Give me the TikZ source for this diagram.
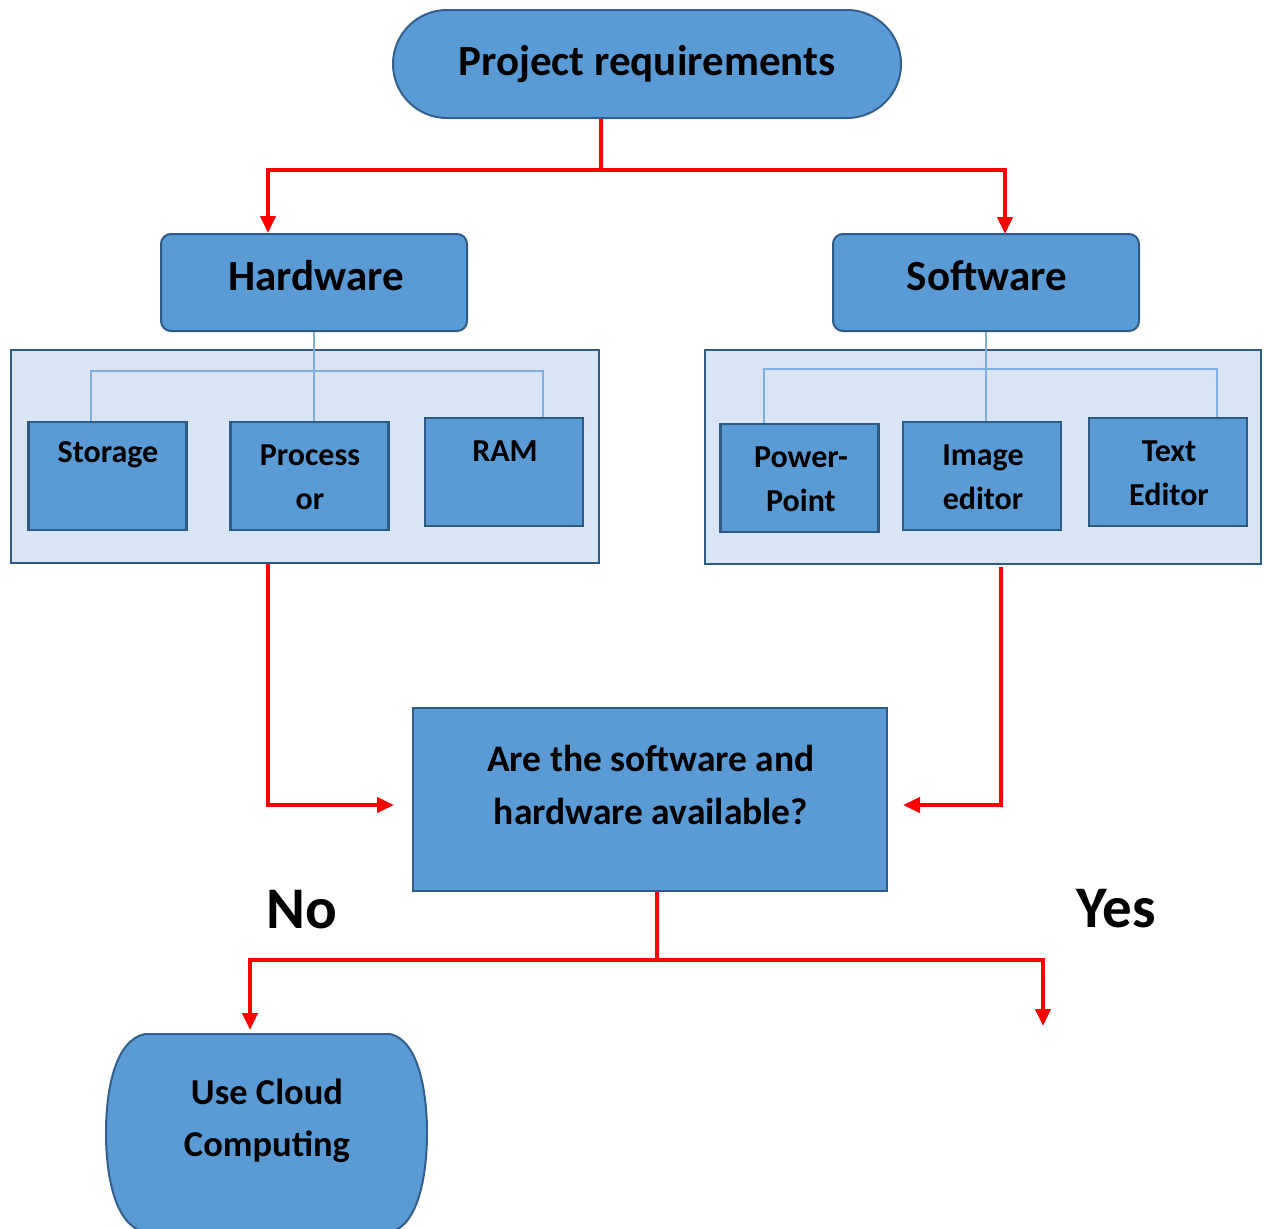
\documentclass[tikz,border=0pt]{standalone}
\usepackage{fontspec}
\setmainfont{Carlito}
\usetikzlibrary{arrows.meta}
\definecolor{boxfill}{HTML}{5B9BD5}
\definecolor{boxline}{HTML}{2E5A86}
\definecolor{termline}{HTML}{325F8E}
\definecolor{panefill}{HTML}{D7E5F4}
\definecolor{thinblue}{HTML}{7EAFDF}
\definecolor{cred}{HTML}{FF0000}
\tikzset{
  termbox/.style={draw=termline, fill=boxfill, line width=2pt},
  headbox/.style={draw=boxline, fill=boxfill, line width=2pt, rounded corners=10pt,
    minimum width=306pt, minimum height=97pt, inner sep=0pt},
  pane/.style={draw=boxline, fill=panefill, line width=2pt, inner sep=0pt},
  itembox/.style={draw=boxline, fill=boxfill, line width=2.5pt,
    minimum width=158pt, minimum height=108pt, inner sep=0pt},
  itemtxt/.style={font=\bfseries\fontsize{32}{44}\selectfont, align=center, inner sep=0pt},
  headtxt/.style={font=\bfseries\fontsize{43}{50}\selectfont, inner sep=0pt},
  dectxt/.style={font=\bfseries\fontsize{37.5}{53}\selectfont, align=center, inner sep=0pt},
  bigtxt/.style={font=\bfseries\fontsize{59}{60}\selectfont, inner sep=0pt},
  thinl/.style={draw=thinblue, line width=1.5pt},
  redpath/.style={draw=cred, line width=4pt},
  redarrow/.style={draw=cred, line width=4pt, -{Triangle[width=15pt,length=17pt]}},
}
\begin{document}
\begin{tikzpicture}[x=1pt,y=-1pt]
\useasboundingbox (0,0) rectangle (1264,1229);
\clip (0,0) rectangle (1264,1229);

% top terminator
\node[termbox, rounded corners=54pt, minimum width=508pt, minimum height=108pt, inner sep=0pt,
      headtxt] (top) at (647,64) {Project requirements};

% headers
\node[headbox] (hw) at (314,282.5) {};
\node[headtxt] (hwt) at (316,276) {Hardware};
\node[headbox] (sw) at (986,282.5) {};
\node[headtxt] (swt) at (987,276) {Software};

% panes
\node[pane, minimum width=588pt, minimum height=213pt] (hwpane) at (305,456.5) {};
\node[pane, minimum width=556pt, minimum height=214pt] (swpane) at (983,457) {};

% hardware items
\node[itembox] (storage) at (107.5,476) {};
\node[itemtxt] (storaget) at (108,455) {Storage};
\node[itembox] (proc) at (309.5,476) {};
\node[itemtxt] (proct) at (310,477) {Process\\or};
\node[itembox] (ram) at (504,472) {};
\node[itemtxt] (ramt) at (505,451) {RAM};

% software items
\node[itembox] (pp) at (799.5,478) {};
\node[itemtxt] (ppt) at (801,479) {Power-\\Point};
\node[itembox] (img) at (982,476) {};
\node[itemtxt] (imgt) at (983,477) {Image\\editor};
\node[itembox] (te) at (1168,472) {};
\node[itemtxt] (tet) at (1169,473) {Text\\Editor};

% thin connectors
\draw[thinl] (hw.south) -- (hw.south |- proc.north);
\draw[thinl] ([xshift=-16.5pt]storage.north) -- ++(0,-50) -| ([xshift=39pt]ram.north);
\draw[thinl] (sw.south) -- (sw.south |- img.north);
\draw[thinl] ([xshift=-35.5pt]pp.north) -- ++(0,-54) -| ([xshift=49pt]te.north);

% decision
\node[draw=boxline, fill=boxfill, line width=2pt, minimum width=474pt, minimum height=183pt,
      inner sep=0pt] (dec) at (650,799.5) {};
\node[dectxt] (dect) at (651,785) {Are the software and\\hardware available?};

% labels
\node[bigtxt] (no) at (302,910) {No};
\node[bigtxt] (yes) at (1116,909) {Yes};

% cloud terminal
\draw[termbox] (145,1034) -- (390,1034)
  .. controls (418,1040) and (427,1090) .. (427,1133)
  .. controls (427,1176) and (418,1226) .. (390,1232)
  -- (145,1232)
  .. controls (115,1226) and (106,1176) .. (106,1133)
  .. controls (106,1090) and (115,1040) .. (145,1034) -- cycle;
\node[dectxt, font=\bfseries\fontsize{36.5}{52}\selectfont] (cloud) at (267,1121) {Use Cloud\\Computing};
\coordinate (cloudtop) at (250,1030);

% red connectors
\coordinate (j1) at (601,170);
\draw[redpath] (top.south -| j1) -- (j1);
\draw[redarrow] (j1) -| ([xshift=-46pt]hw.north);
\draw[redarrow] (j1) -| ([xshift=19pt,yshift=-1pt]sw.north);
\draw[redarrow] ([xshift=-37pt]hwpane.south) |- ([xshift=-18pt,yshift=-5.5pt]dec.west);
\draw[redarrow] ([xshift=18pt,yshift=-2pt]swpane.south) |- ([xshift=15pt,yshift=-5.5pt]dec.east);
\coordinate (j2) at (657,960);
\coordinate (yesend) at (1043,1026);
\draw[redpath] ([xshift=7pt]dec.south) -- (j2);
\draw[redarrow] (j2) -| (cloudtop);
\draw[redarrow] (j2) -| (yesend);
\end{tikzpicture}
\end{document}
